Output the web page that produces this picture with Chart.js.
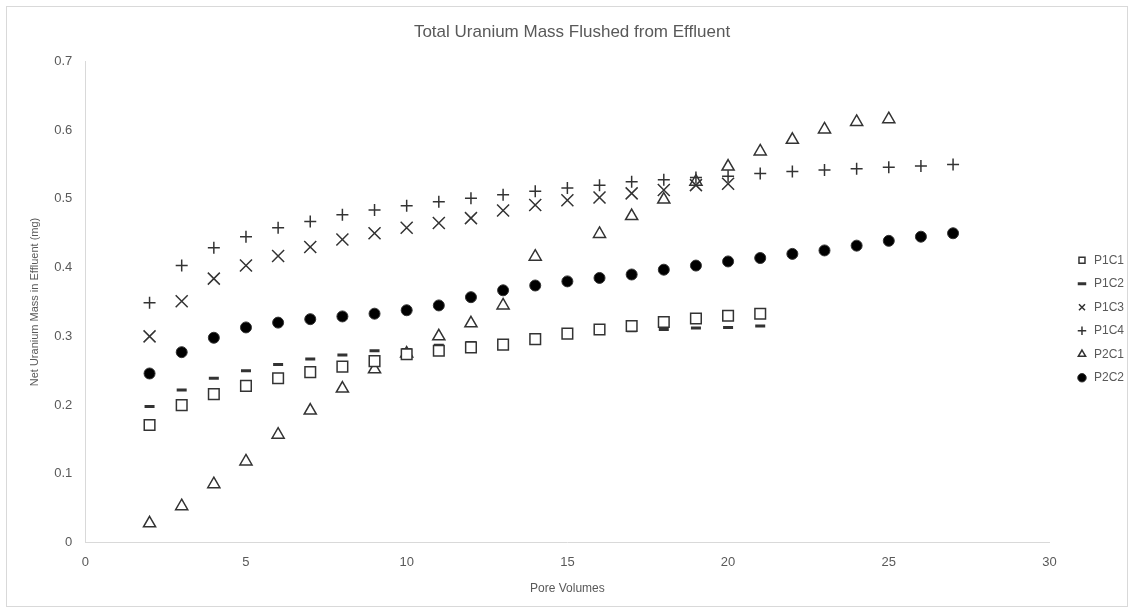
<!DOCTYPE html>
<html>
<head>
<meta charset="utf-8">
<script src="https://cdn.jsdelivr.net/npm/chart.js@4"></script>
<style>
  html, body { margin: 0; padding: 0; background: #fff; }
  #wrap { width: 1134px; height: 613px; position: relative; }
</style>
</head>
<body>
<div id="wrap"><canvas id="chart"></canvas></div>
<script>
// pore volumes sampled for every column
const poreVolumes = [2, 3, 4, 5, 6, 7, 8, 9, 10, 11, 12, 13, 14, 15, 16, 17, 18, 19, 20, 21, 22, 23, 24, 25, 26, 27];

// net uranium mass (mg), one entry per pore volume (null = not measured)
const p1c1 = [0.171, 0.200, 0.216, 0.228, 0.239, 0.248, 0.256, 0.264, 0.274, 0.279, 0.284, 0.288, 0.296, 0.304, 0.310, 0.315, 0.321, 0.326, 0.330, 0.333];
const p1c2 = [0.198, 0.222, 0.239, 0.250, 0.259, 0.267, 0.273, 0.279, 0.281, 0.287, 0.291, 0.294, 0.298, 0.302, 0.305, 0.308, 0.310, 0.312, 0.313, 0.315];
const p1c3 = [0.300, 0.351, 0.384, 0.403, 0.417, 0.430, 0.441, 0.450, 0.458, 0.465, 0.472, 0.483, 0.491, 0.498, 0.502, 0.508, 0.513, 0.520, 0.522];
const p1c4 = [0.349, 0.403, 0.429, 0.445, 0.458, 0.467, 0.477, 0.484, 0.490, 0.496, 0.501, 0.506, 0.511, 0.516, 0.520, 0.525, 0.528, 0.531, 0.533, 0.537, 0.540, 0.542, 0.544, 0.546, 0.548, 0.550];
const p2c1 = [0.028, 0.053, 0.085, 0.118, 0.157, 0.192, 0.224, 0.252, 0.275, 0.300, 0.319, 0.345, 0.416, null, 0.449, 0.475, 0.499, 0.525, 0.547, 0.569, 0.586, 0.601, 0.612, 0.616];
const p2c2 = [0.246, 0.277, 0.298, 0.313, 0.320, 0.325, 0.329, 0.333, 0.338, 0.345, 0.357, 0.367, 0.374, 0.380, 0.385, 0.390, 0.397, 0.403, 0.409, 0.414, 0.420, 0.425, 0.432, 0.439, 0.445, 0.450];

const seriesNames = ["P1C1", "P1C2", "P1C3", "P1C4", "P2C1", "P2C2"];
const xTicks = [0, 5, 10, 15, 20, 25, 30];
const yTicks = [0, 0.1, 0.2, 0.3, 0.4, 0.5, 0.6, 0.7];

function toPoints(values) {
  const pts = [];
  values.forEach((v, i) => {
    if (v !== null) pts.push({ x: poreVolumes[i], y: v });
  });
  return pts;
}

const ink = "#000000";
const grey = "#595959";
const font = "'Liberation Sans', Arial, sans-serif";

// marker look per series
const markers = [
  { style: "rect", radius: 7.5, fill: "#ffffff", width: 1.5 },
  { style: "line", radius: 5, fill: ink, width: 3 },
  { style: "crossRot", radius: 8.5, fill: ink, width: 1.5 },
  { style: "cross", radius: 6, fill: ink, width: 1.5 },
  { style: "triangle", radius: 7, fill: "#ffffff", width: 1.5 },
  { style: "circle", radius: 5.5, fill: ink, width: 1 }
];

const allValues = [p1c1, p1c2, p1c3, p1c4, p2c1, p2c2];

const datasets = seriesNames.map((name, i) => ({
  label: name,
  data: toPoints(allValues[i]),
  showLine: false,
  pointStyle: markers[i].style,
  pointRadius: markers[i].radius,
  pointHoverRadius: markers[i].radius,
  pointBorderWidth: markers[i].width,
  borderColor: ink,
  pointBorderColor: "#333333",
  pointBackgroundColor: markers[i].fill,
  backgroundColor: markers[i].fill
}));

// thin frame round the whole chart, like the spreadsheet export
const framePlugin = {
  id: "frame",
  afterDraw(chart) {
    const c = chart.ctx;
    c.save();
    c.strokeStyle = "#d9d9d9";
    c.lineWidth = 1;
    c.strokeRect(6.5, 6.5, chart.width - 13, chart.height - 13);
    c.restore();
  }
};

const ctx = document.getElementById("chart").getContext("2d");
new Chart(ctx, {
  type: "scatter",
  data: { datasets: datasets },
  options: {
    responsive: true,
    maintainAspectRatio: false,
    animation: false,
    layout: { padding: { top: 14, right: 0, bottom: 13, left: 10 } },
    plugins: {
      title: {
        display: true,
        text: "Total Uranium Mass Flushed from Effluent",
        color: grey,
        font: { family: font, size: 17, weight: "normal" },
        padding: { top: 8, bottom: 19 }
      },
      legend: {
        position: "right",
        title: { display: true, text: " ", font: { size: 10 }, padding: { top: 6, bottom: 6 } },
        labels: {
          usePointStyle: true,
          color: grey,
          boxHeight: 6,
          padding: 11.5,
          font: { family: font, size: 12 }
        }
      },
      tooltip: { enabled: false }
    },
    scales: {
      x: {
        type: "linear",
        min: 0,
        max: 30,
        afterBuildTicks: (axis) => { axis.ticks = xTicks.map(v => ({ value: v })); },
        grid: { display: false, drawTicks: false, tickLength: 0 },
        border: { color: "#d9d9d9" },
        ticks: { color: grey, font: { family: font, size: 13, lineHeight: 1 }, padding: 13 },
        title: {
          display: true,
          text: "Pore Volumes",
          color: grey,
          font: { family: font, size: 12 },
          padding: { top: 0, bottom: 4 }
        }
      },
      y: {
        type: "linear",
        min: 0,
        max: 0.7,
        afterBuildTicks: (axis) => { axis.ticks = yTicks.map(v => ({ value: v })); },
        grid: { display: false, drawTicks: false, tickLength: 0 },
        border: { color: "#d9d9d9" },
        ticks: {
          color: grey,
          font: { family: font, size: 13 },
          padding: 13,
          callback: (v) => (Math.round(v * 10) / 10).toString()
        },
        title: {
          display: true,
          text: "Net Uranium Mass in Effluent (mg)",
          color: grey,
          font: { family: font, size: 11 },
          padding: { top: 18, bottom: 0 }
        }
      },
      // empty spacer between plot and legend
      gap: {
        type: "linear",
        position: "right",
        grid: { display: false, drawTicks: false },
        border: { display: false },
        ticks: { display: false },
        afterFit: (s) => { s.width = 15; }
      }
    }
  },
  plugins: [framePlugin]
});
</script>
</body>
</html>
